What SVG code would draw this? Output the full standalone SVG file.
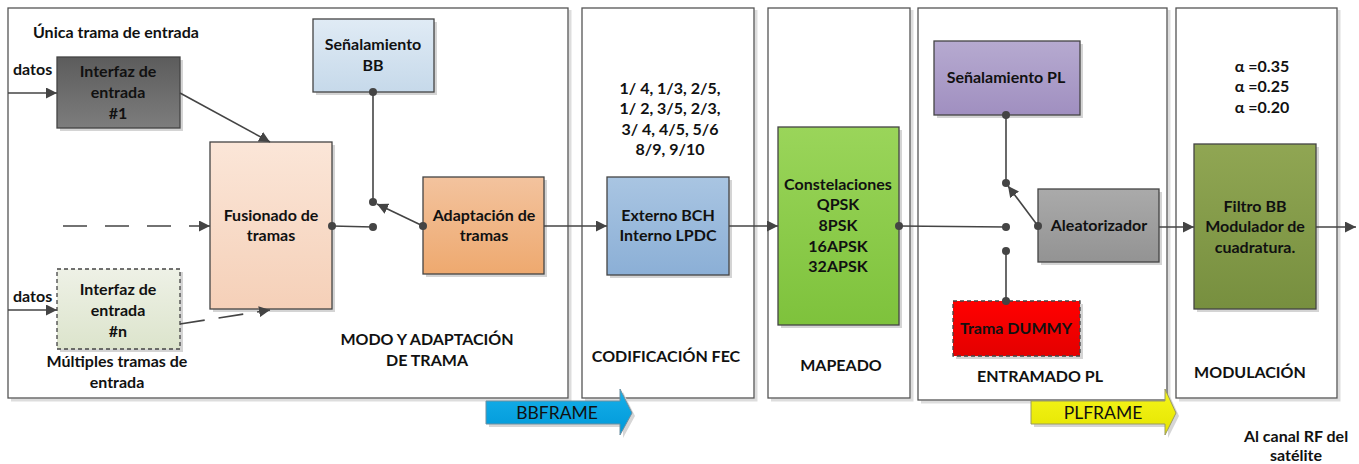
<svg xmlns="http://www.w3.org/2000/svg" width="1359" height="464" viewBox="0 0 1359 464">
<defs>
<style>
.t{font-family:Lato,"Liberation Sans",sans-serif;font-weight:bold;font-size:16px;fill:#111;text-anchor:middle}
.tl{text-anchor:start}
.big{font-family:Lato,"Liberation Sans",sans-serif;font-size:17.5px;fill:#111;text-anchor:middle}
.panel{fill:#fff;stroke:#555;stroke-width:1.3}
.psh{fill:none;stroke:#ddd;stroke-width:3}
.box{stroke:#444;stroke-width:1.3}
.sh{fill:#d4d4d4}
.ln{fill:none;stroke:#444;stroke-width:1.6}
.dot{fill:#444}
</style>
<marker id="ah" viewBox="0 0 10 10" refX="10" refY="5" markerWidth="11" markerHeight="11" markerUnits="userSpaceOnUse" orient="auto">
<path d="M0,0 L10,5 L0,10 z" fill="#444"/>
</marker>
<linearGradient id="gI1" x1="0" y1="0" x2="0" y2="1"><stop offset="0" stop-color="#5c5c5c"/><stop offset="1" stop-color="#7d7d7d"/></linearGradient>
<linearGradient id="gIn" x1="0" y1="0" x2="0" y2="1"><stop offset="0" stop-color="#eef1e6"/><stop offset="1" stop-color="#dce4cc"/></linearGradient>
<linearGradient id="gFu" x1="0" y1="0" x2="0" y2="1"><stop offset="0" stop-color="#fbe6d8"/><stop offset="1" stop-color="#f5d0b8"/></linearGradient>
<linearGradient id="gSB" x1="0" y1="0" x2="0" y2="1"><stop offset="0" stop-color="#e0ebf5"/><stop offset="1" stop-color="#c6d9ea"/></linearGradient>
<linearGradient id="gAd" x1="0" y1="0" x2="0" y2="1"><stop offset="0" stop-color="#f3c39e"/><stop offset="1" stop-color="#eea96f"/></linearGradient>
<linearGradient id="gFE" x1="0" y1="0" x2="0" y2="1"><stop offset="0" stop-color="#a9c5e2"/><stop offset="1" stop-color="#8bafd6"/></linearGradient>
<linearGradient id="gCo" x1="0" y1="0" x2="0" y2="1"><stop offset="0" stop-color="#9ad55a"/><stop offset="1" stop-color="#7ec23c"/></linearGradient>
<linearGradient id="gSP" x1="0" y1="0" x2="0" y2="1"><stop offset="0" stop-color="#b6aad0"/><stop offset="1" stop-color="#a08fc0"/></linearGradient>
<linearGradient id="gDu" x1="0" y1="0" x2="0" y2="1"><stop offset="0" stop-color="#ff0000"/><stop offset="1" stop-color="#e40000"/></linearGradient>
<linearGradient id="gAl" x1="0" y1="0" x2="0" y2="1"><stop offset="0" stop-color="#aaaaaa"/><stop offset="1" stop-color="#939393"/></linearGradient>
<linearGradient id="gFi" x1="0" y1="0" x2="0" y2="1"><stop offset="0" stop-color="#90a653"/><stop offset="1" stop-color="#778f3f"/></linearGradient>
<linearGradient id="gBB" x1="0" y1="0" x2="0" y2="1"><stop offset="0" stop-color="#16b0ea"/><stop offset="1" stop-color="#0098d8"/></linearGradient>
<linearGradient id="gPL" x1="0" y1="0" x2="0" y2="1"><stop offset="0" stop-color="#f6f61a"/><stop offset="1" stop-color="#e4e400"/></linearGradient>
</defs>
<rect width="1359" height="464" fill="#fff"/>

<g id="panels">
<polyline class="psh" points="570,10 570,400 11,400"/>
<rect class="panel" x="8" y="8" width="560" height="390"/>
<polyline class="psh" points="756,10 756,400 585,400"/>
<rect class="panel" x="582" y="8" width="172" height="390"/>
<polyline class="psh" points="912,10 912,400 771,400"/>
<rect class="panel" x="768" y="8" width="142" height="390"/>
<polyline class="psh" points="1169,10 1169,402 921,402"/>
<rect class="panel" x="918" y="8" width="249" height="392"/>
<polyline class="psh" points="1339,10 1339,400 1179,400"/>
<rect class="panel" x="1176" y="8" width="161" height="390"/>
</g>

<g id="panel-labels">
<text class="t" x="427" y="345">MODO Y ADAPTACIÓN</text>
<text class="t" x="427" y="366">DE TRAMA</text>
<text class="t" x="666" y="362">CODIFICACIÓN FEC</text>
<text class="t" x="841" y="371">MAPEADO</text>
<text class="t" x="1040" y="382">ENTRAMADO PL</text>
<text class="t" x="1250" y="378">MODULACIÓN</text>
<text class="t tl" x="33" y="38">Única trama de entrada</text>
<text class="t tl" x="13" y="75">datos</text>
<text class="t tl" x="13" y="302">datos</text>
<text class="t" x="117" y="367">Múltiples tramas de</text>
<text class="t" x="117" y="388">entrada</text>
<text class="t" x="670" y="94">1/ 4, 1/3, 2/5,</text>
<text class="t" x="670" y="114">1/ 2, 3/5, 2/3,</text>
<text class="t" x="670" y="135">3/ 4, 4/5, 5/6</text>
<text class="t" x="670" y="155">8/9, 9/10</text>
<text class="t" x="1262" y="72">α =0.35</text>
<text class="t" x="1262" y="92">α =0.25</text>
<text class="t" x="1262" y="113">α =0.20</text>
<text class="t" x="1296" y="442">Al canal RF del</text>
<text class="t" x="1296" y="461">satélite</text>
</g>

<g id="interfaz1">
<rect class="sh" x="60" y="60" width="123" height="71"/>
<rect class="box" x="57" y="57" width="123" height="71" fill="url(#gI1)"/>
<text class="t" x="118" y="77">Interfaz de</text>
<text class="t" x="118" y="98">entrada</text>
<text class="t" x="118" y="119">#1</text>
</g>

<g id="interfazn">
<rect class="sh" x="60" y="272" width="123" height="80"/>
<rect class="box" x="57" y="269" width="123" height="80" fill="url(#gIn)" stroke="#666" stroke-dasharray="4 3"/>
<text class="t" x="118" y="295">Interfaz de</text>
<text class="t" x="118" y="316">entrada</text>
<text class="t" x="118" y="337">#n</text>
</g>

<g id="fusionado">
<rect class="sh" x="213" y="145" width="122" height="167"/>
<rect class="box" x="210" y="142" width="122" height="167" fill="url(#gFu)"/>
<text class="t" x="271" y="221">Fusionado de</text>
<text class="t" x="271" y="241">tramas</text>
</g>

<g id="senal-bb">
<rect class="sh" x="316" y="22" width="121" height="73"/>
<rect class="box" x="313" y="19" width="121" height="73" fill="url(#gSB)"/>
<text class="t" x="373" y="50">Señalamiento</text>
<text class="t" x="373" y="71">BB</text>
</g>

<g id="adaptacion">
<rect class="sh" x="426" y="180" width="121" height="97"/>
<rect class="box" x="423" y="177" width="121" height="97" fill="url(#gAd)"/>
<text class="t" x="484" y="221">Adaptación de</text>
<text class="t" x="484" y="241">tramas</text>
</g>

<g id="fec">
<rect class="sh" x="610" y="180" width="122" height="98"/>
<rect class="box" x="607" y="177" width="122" height="98" fill="url(#gFE)"/>
<text class="t" x="668" y="221">Externo BCH</text>
<text class="t" x="668" y="241">Interno LPDC</text>
</g>

<g id="constelaciones">
<rect class="sh" x="781" y="130" width="121" height="198"/>
<rect class="box" x="778" y="127" width="121" height="198" fill="url(#gCo)"/>
<text class="t" x="838" y="190">Constelaciones</text>
<text class="t" x="838" y="210">QPSK</text>
<text class="t" x="838" y="231">8PSK</text>
<text class="t" x="838" y="252">16APSK</text>
<text class="t" x="838" y="272">32APSK</text>
</g>

<g id="senal-pl">
<rect class="sh" x="937" y="44" width="146" height="74"/>
<rect class="box" x="934" y="41" width="146" height="74" fill="url(#gSP)"/>
<text class="t" x="1006" y="83">Señalamiento PL</text>
</g>

<g id="dummy">
<rect class="sh" x="956" y="304" width="127" height="55"/>
<rect class="box" x="953" y="301" width="127" height="55" fill="url(#gDu)" stroke="#b00" stroke-dasharray="4 3"/>
<text class="t" x="1016" y="334">Trama DUMMY</text>
</g>

<g id="aleatorizador">
<rect class="sh" x="1041" y="192" width="121" height="73"/>
<rect class="box" x="1038" y="189" width="121" height="73" fill="url(#gAl)"/>
<text class="t" x="1099" y="231">Aleatorizador</text>
</g>

<g id="filtro">
<rect class="sh" x="1197" y="147" width="122" height="165"/>
<rect class="box" x="1194" y="144" width="122" height="165" fill="url(#gFi)"/>
<text class="t" x="1255" y="212">Filtro BB</text>
<text class="t" x="1255" y="232">Modulador de</text>
<text class="t" x="1255" y="253">cuadratura.</text>
</g>

<g id="bbframe">
<path d="M489,404 L623,404 L623,392 L635,416 L623,438 L623,427 L489,427 z" fill="#d6d6d6"/>
<path d="M486,401 L620,401 L620,389 L632,413 L620,435 L620,424 L486,424 z" fill="url(#gBB)" stroke="#6d8fa0" stroke-width="1"/>
<text class="big" x="557" y="419">BBFRAME</text>
</g>

<g id="plframe">
<path d="M1034,404 L1168,404 L1168,392 L1179,416 L1168,438 L1168,427 L1034,427 z" fill="#d6d6d6"/>
<path d="M1031,401 L1165,401 L1165,389 L1176,413 L1165,435 L1165,424 L1031,424 z" fill="url(#gPL)" stroke="#9a9a60" stroke-width="1"/>
<text class="big" x="1103" y="419">PLFRAME</text>
</g>

<g id="connectors">
<line class="ln" x1="8" y1="93" x2="57" y2="93" marker-end="url(#ah)"/>
<line class="ln" x1="8" y1="310" x2="57" y2="310" marker-end="url(#ah)"/>
<line class="ln" x1="180" y1="93" x2="270" y2="142" marker-end="url(#ah)"/>
<line class="ln" x1="63" y1="226" x2="210" y2="226" stroke-dasharray="24 18" marker-end="url(#ah)"/>
<line class="ln" x1="180" y1="324" x2="270" y2="310" stroke-dasharray="25 14" marker-end="url(#ah)"/>
<line class="ln" x1="332" y1="226" x2="373" y2="227"/>
<line class="ln" x1="373" y1="92" x2="373" y2="202"/>
<line class="ln" x1="423" y1="226" x2="377" y2="204" marker-end="url(#ah)"/>
<line class="ln" x1="544" y1="226" x2="607" y2="226" marker-end="url(#ah)"/>
<line class="ln" x1="729" y1="226" x2="778" y2="226" marker-end="url(#ah)"/>
<line class="ln" x1="899" y1="226" x2="1006" y2="227"/>
<line class="ln" x1="1006" y1="115" x2="1006" y2="183"/>
<line class="ln" x1="1006" y1="251" x2="1006" y2="301"/>
<line class="ln" x1="1038" y1="226" x2="1008" y2="186" marker-end="url(#ah)"/>
<line class="ln" x1="1159" y1="227" x2="1194" y2="227" marker-end="url(#ah)"/>
<line class="ln" x1="1316" y1="227" x2="1356" y2="227" marker-end="url(#ah)"/>
<circle class="dot" cx="332" cy="226" r="4"/>
<circle class="dot" cx="373" cy="227" r="4"/>
<circle class="dot" cx="373" cy="92" r="4"/>
<circle class="dot" cx="373" cy="202" r="4"/>
<circle class="dot" cx="423" cy="226" r="4"/>
<circle class="dot" cx="899" cy="226" r="4"/>
<circle class="dot" cx="1006" cy="115" r="4"/>
<circle class="dot" cx="1006" cy="183" r="4"/>
<circle class="dot" cx="1006" cy="227" r="4"/>
<circle class="dot" cx="1006" cy="251" r="4"/>
<circle class="dot" cx="1006" cy="301" r="4"/>
<circle class="dot" cx="1038" cy="226" r="4"/>
</g>
</svg>
